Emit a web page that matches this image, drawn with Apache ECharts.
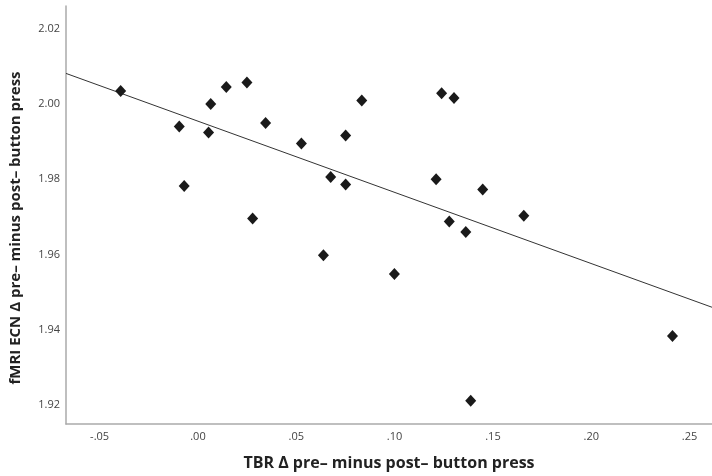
<!DOCTYPE html>
<html>
<head>
<meta charset="utf-8">
<script src="https://cdn.jsdelivr.net/npm/echarts@6/dist/echarts.min.js"></script>
<style>html,body{margin:0;padding:0;background:#fff}#c{width:712px;height:476px}</style>
</head>
<body>
<div id="c"></div>
<script>
const tbrDelta = [-0.0393,-0.0095,-0.0070,0.0054,0.0065,0.0144,0.0249,0.0278,0.0344,0.0526,0.0638,0.0675,0.0751,0.0751,0.0833,0.0999,0.1211,0.1239,0.1278,0.1302,0.1362,0.1387,0.1448,0.1657,0.2413];
const ecnDelta = [2.0034,1.9940,1.9782,1.9924,2.0000,2.0045,2.0057,1.9696,1.9949,1.9895,1.9598,1.9806,1.9916,1.9786,2.0009,1.9548,1.9800,2.0028,1.9688,2.0016,1.9660,1.9212,1.9773,1.9703,1.9384];
const fitX = [-0.0671, 0.2614];
const fitY = [2.0081, 1.9460];
const xTicks = [-0.05,0,0.05,0.10,0.15,0.20,0.25];
const yTicks = [1.92,1.94,1.96,1.98,2.00,2.02];
const xTitle = 'TBR Δ pre– minus post– button press';
const yTitle = 'fMRI ECN Δ pre– minus post– button press';

const chart = echarts.init(document.getElementById('c'), null, {renderer:'canvas'});
const fmtX = v => { const s = Math.abs(v).toFixed(2).replace(/^0/, ''); return (v < -1e-9 ? '-' : '') + s; };
chart.setOption({
  animation:false,
  grid:{left:66, top:6, right:0, bottom:52, containLabel:false, outerBoundsMode:'none'},
  xAxis:{
    type:'value', min:-0.0671, max:0.2614,
    name:xTitle, nameLocation:'middle', nameGap:31,
    nameTextStyle:{fontFamily:'Open Sans', fontWeight:'bold', fontSize:16, color:'#222'},
    axisLine:{show:true, onZero:false, lineStyle:{color:'#aaa', width:1.5}},
    axisTick:{show:false},
    splitLine:{show:false},
    axisLabel:{customValues:xTicks, formatter:fmtX, fontFamily:'Open Sans', fontSize:11, color:'#444', margin:7}
  },
  yAxis:{
    type:'value', min:1.915, max:2.026,
    name:yTitle, nameLocation:'middle', nameGap:43, nameRotate:90,
    nameTextStyle:{fontFamily:'Open Sans', fontWeight:'bold', fontSize:15, color:'#222', padding:[0,26,0,0]},
    axisLine:{show:true, onZero:false, lineStyle:{color:'#aaa', width:1.5}},
    axisTick:{show:false},
    splitLine:{show:false},
    axisLabel:{customValues:yTicks, formatter:v => v.toFixed(2), fontFamily:'Open Sans', fontSize:11, color:'#444', margin:6}
  },
  series:[
    {
      type:'line', data:fitX.map((x,i)=>[x,fitY[i]]), symbol:'none',
      lineStyle:{color:'#333', width:1}, silent:true, z:1
    },
    {
      type:'scatter', data:tbrDelta.map((x,i)=>[x,ecnDelta[i]]),
      symbol:'diamond', symbolSize:[11,12],
      itemStyle:{color:'#1a1a1a', opacity:1}, z:2
    }
  ]
});
</script>
</body>
</html>
